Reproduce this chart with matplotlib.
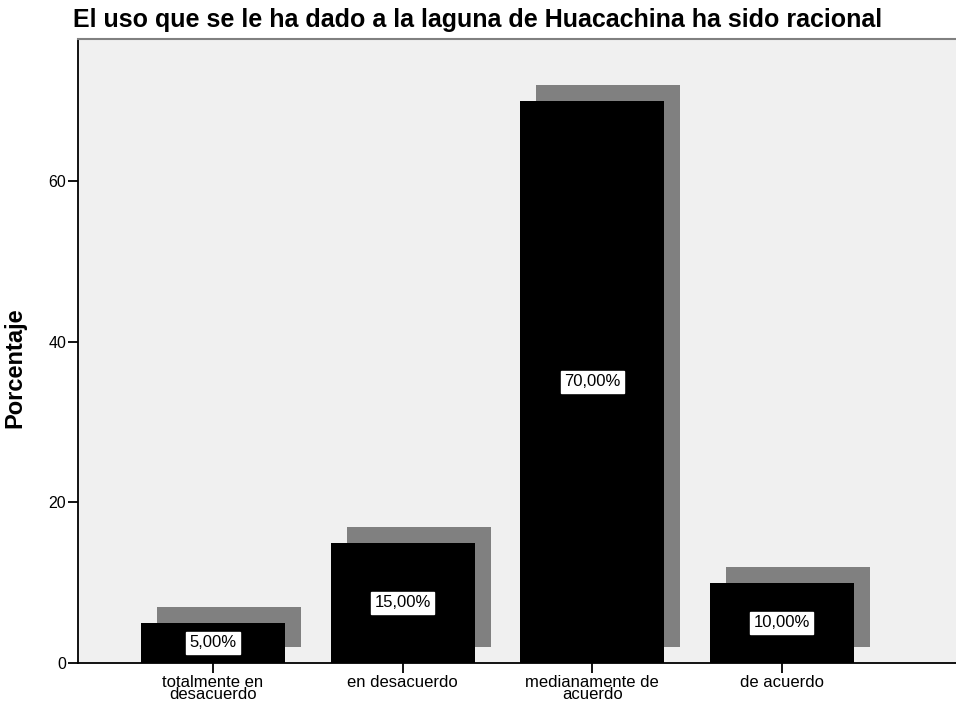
import numpy as np
import matplotlib
matplotlib.use("Agg")
from matplotlib import pyplot as plt

## datos ------------------------------------------------------------
categorias = ["totalmente en\ndesacuerdo", "en desacuerdo",
              "medianamente de\nacuerdo", "de acuerdo"]
porcentajes = [5.0, 15.0, 70.0, 10.0]
etiquetas = ["5,00%", "15,00%", "70,00%", "10,00%"]
yticks = [0, 20, 40, 60]

titulo = "El uso que se le ha dado a la laguna de Huacachina ha sido racional"

plt.rcParams['font.family'] = ['Liberation Sans', 'DejaVu Sans']

fig = plt.figure(figsize=(9.56, 7.11), dpi=100)
ax = fig.add_axes([0.0816, 0.0675, 0.9184, 0.8775])
ax.set_facecolor("#f0f0f0")

x = np.arange(len(categorias))
ancho = 0.76
dx = 0.084   # desplazamiento de la sombra
dy = 2.0

# sombra
ax.bar(x + dx, porcentajes, ancho, bottom=dy, color="#808080", zorder=2)
# barras
ax.bar(x, porcentajes, ancho, color="black", zorder=3)

for xi, v, txt in zip(x, porcentajes, etiquetas):
    ax.text(xi, v / 2, txt, ha="center", va="center", fontsize=12, zorder=4,
            bbox=dict(boxstyle="square,pad=0.2", fc="white", ec="white"))

ax.set_xlim(-0.712, 3.918)
ax.set_ylim(0, 77.7)
ax.set_xticks(x)
ax.set_xticklabels(categorias, fontsize=12, linespacing=0.8)
ax.set_yticks(yticks)
ax.set_yticklabels([str(t) for t in yticks], fontsize=11.5)
ax.tick_params(axis="both", length=7, width=1.3, colors="black", pad=1.5)

ax.spines["right"].set_visible(False)
ax.spines["top"].set_color("#808080")
ax.spines["top"].set_linewidth(1.5)
ax.spines["left"].set_linewidth(1.3)
ax.spines["bottom"].set_linewidth(1.3)

ax.set_ylabel("Porcentaje", fontsize=17, fontweight="bold")
ax.yaxis.set_label_coords(-0.059, 0.474)
fig.text(0.0765, 0.972, titulo, fontsize=18, fontweight="bold",
         ha="left", va="center")

fig.savefig("out.png", dpi=100)
